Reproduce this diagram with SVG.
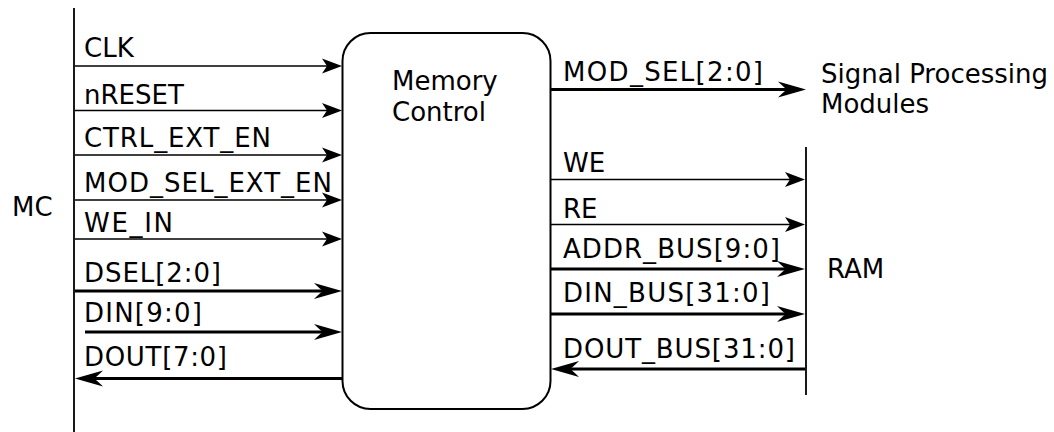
<svg xmlns="http://www.w3.org/2000/svg" width="1054" height="432" viewBox="0 0 1054 432">
<style>
text{font-family:"DejaVu Sans","Verdana",sans-serif;font-size:26px;fill:#000}
.bus{stroke:#000;stroke-width:1.8;fill:none}
.box{stroke:#000;stroke-width:2;fill:#fff}
.thin{stroke:#000;stroke-width:1.6;fill:none;marker-end:url(#aThin)}
.thick{stroke:#000;stroke-width:3.2;fill:none;marker-end:url(#aThick)}
</style>
<defs>
<marker id="aThin" markerUnits="userSpaceOnUse" orient="auto" refX="0" refY="0" markerWidth="1" markerHeight="1" overflow="visible">
<path d="M6,0 L-14,-7.5 L-9,0 L-14,7.5 Z" fill="#000"/>
</marker>
<marker id="aThick" markerUnits="userSpaceOnUse" orient="auto" refX="0" refY="0" markerWidth="1" markerHeight="1" overflow="visible">
<path d="M10,0 L-18,-8 Q-12,-2 -9,0 Q-12,2 -18,8 Z" fill="#000"/>
</marker>
</defs>
<rect width="1054" height="432" fill="#fff"/>

<g id="mc">
<line class="bus" x1="74" y1="8" x2="74" y2="432"/>
<text x="12" y="216">MC</text>
</g>

<g id="memory-control">
<rect class="box" x="342.5" y="33" width="208" height="376" rx="28" ry="28"/>
<text x="392" y="90">Memory</text>
<text x="392" y="121">Control</text>
</g>

<g id="ram">
<line class="bus" x1="806" y1="147" x2="806" y2="395"/>
<text x="827" y="278">RAM</text>
</g>

<g id="signal-processing">
<text x="821" y="83">Signal Processing</text>
<text x="821" y="113">Modules</text>
</g>

<g id="connectors">
<line class="thin" x1="75" y1="66" x2="336" y2="66"/>
<text x="84" y="57">CLK</text>
<line class="thin" x1="75" y1="110.5" x2="336" y2="110.5"/>
<text x="84" y="104">nRESET</text>
<line class="thin" x1="75" y1="155" x2="336" y2="155"/>
<text x="84" y="147" textLength="187" lengthAdjust="spacing">CTRL_EXT_EN</text>
<line class="thin" x1="75" y1="200" x2="336" y2="200"/>
<text x="84" y="192" textLength="248" lengthAdjust="spacing">MOD_SEL_EXT_EN</text>
<line class="thin" x1="75" y1="239" x2="336" y2="239"/>
<text x="84" y="232" textLength="89" lengthAdjust="spacing">WE_IN</text>
<line class="thick" x1="75" y1="291" x2="332" y2="291"/>
<text x="84" y="282" textLength="137" lengthAdjust="spacing">DSEL[2:0]</text>
<line class="thick" x1="85" y1="332" x2="332" y2="332"/>
<text x="84" y="322" textLength="118" lengthAdjust="spacing">DIN[9:0]</text>
<line class="thick" x1="342" y1="378.5" x2="85" y2="378.5"/>
<text x="84" y="366" textLength="143" lengthAdjust="spacing">DOUT[7:0]</text>

<line class="thick" x1="551" y1="89.5" x2="796" y2="89.5"/>
<text x="563" y="81" textLength="200" lengthAdjust="spacing">MOD_SEL[2:0]</text>
<line class="thin" x1="551" y1="179.5" x2="799" y2="179.5"/>
<text x="563" y="172">WE</text>
<line class="thin" x1="551" y1="224.5" x2="799" y2="224.5"/>
<text x="563" y="218">RE</text>
<line class="thick" x1="551" y1="269" x2="795" y2="269"/>
<text x="563" y="258" textLength="217" lengthAdjust="spacing">ADDR_BUS[9:0]</text>
<line class="thick" x1="551" y1="314" x2="795" y2="314"/>
<text x="563" y="302" textLength="207" lengthAdjust="spacing">DIN_BUS[31:0]</text>
<line class="thick" x1="805" y1="369" x2="561" y2="369"/>
<text x="563" y="358" textLength="232" lengthAdjust="spacing">DOUT_BUS[31:0]</text>
</g>
</svg>
